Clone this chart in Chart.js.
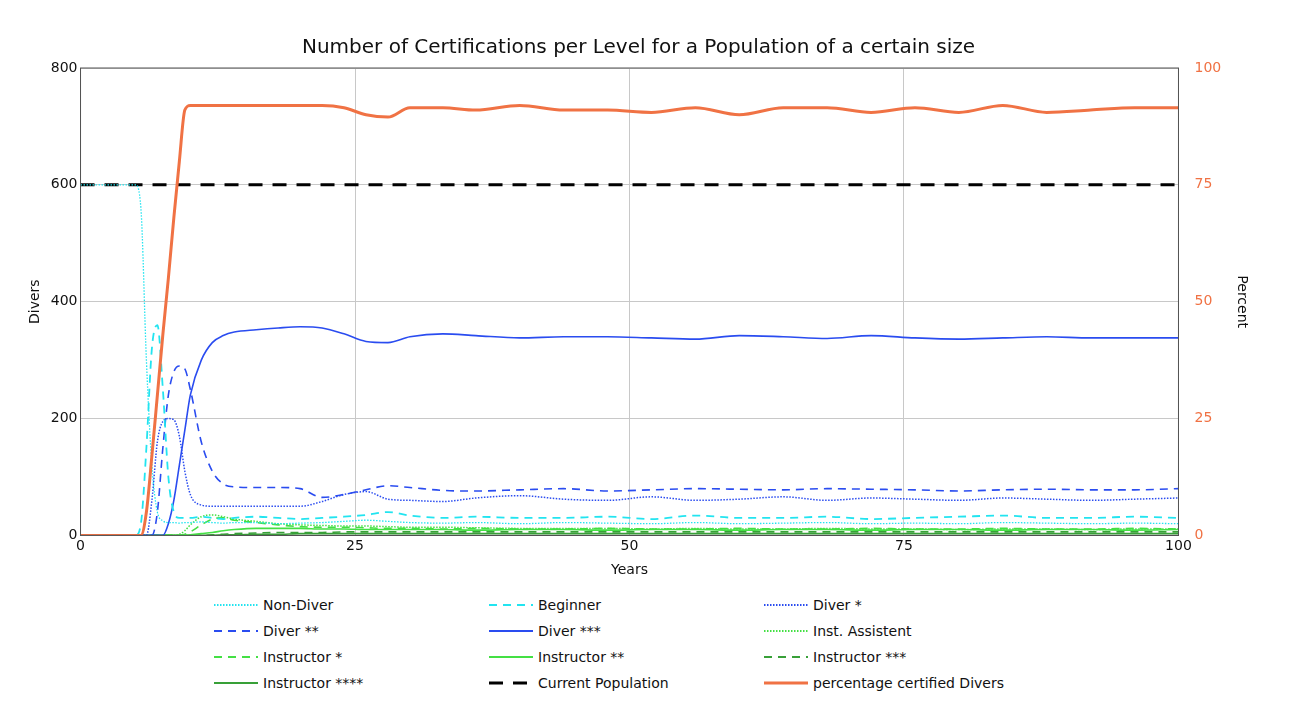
<!DOCTYPE html>
<html>
<head>
<meta charset="utf-8">
<script src="https://cdn.jsdelivr.net/npm/chart.js@4"></script>
<style>
  body { margin: 0; background: #fff; font-family: "DejaVu Sans", sans-serif; }
  #wrap { position: relative; width: 1308px; height: 590px; }
  #legend { position: relative; width: 1308px; height: 124px; }
  .item { position: absolute; font-size: 14px; color: #111; display: flex; align-items: center; height: 20px; }
  .item svg { margin-right: 5px; }
</style>
</head>
<body>
<div id="wrap"><canvas id="chart" width="1308" height="590"></canvas></div>
<div id="legend"></div>
<script>
// Time points (years)
const years = [0,5,5.5,6,6.5,7,7.5,8,8.5,9,9.5,10,11,12,13,14,16,18,20,22,24,26,28,30,33,36,40,44,48,52,56,60,64,68,72,76,80,84,88,92,96,100];

// Series values
const nonDiver = [600,600,560,300,120,40,25,22,22,21,22,22,23,22,21,22,22,20,21,22,24,26,24,22,21,22,20,22,21,20,22,20,21,22,20,21,20,22,21,20,21,20];
const beginner = [0,0,20,150,320,360,250,100,40,30,30,30,32,30,28,30,32,30,28,30,32,35,40,34,30,32,30,30,32,28,34,30,30,32,28,30,32,34,30,30,32,30];
const diver1 = [0,0,0,0,60,160,195,200,198,170,110,70,52,50,50,50,50,50,50,58,70,75,62,60,58,64,68,62,60,66,60,62,66,60,64,62,60,64,62,60,62,64];
const diver2 = [0,0,0,0,0,40,150,240,280,290,285,250,160,110,88,83,82,82,80,65,70,78,85,82,77,76,78,80,76,78,80,79,78,80,79,78,76,78,79,78,78,80];
const diver3 = [0,0,0,0,0,0,0,20,60,120,180,240,300,330,342,348,352,355,357,355,345,332,330,340,345,342,338,340,340,338,336,342,340,337,342,338,336,338,340,338,338,338];
const instAssistent = [0,0,0,0,0,0,0,0,0,2,8,18,32,35,32,28,24,20,18,17,16,16,15,14,14,13,12,12,12,11,12,11,11,12,11,11,10,11,11,10,11,11];
const instructor1 = [0,0,0,0,0,0,0,0,0,0,2,6,18,28,30,26,22,18,15,14,14,13,12,12,11,12,11,11,12,11,11,12,11,11,12,11,11,12,11,11,12,11];
const instructor2 = [0,0,0,0,0,0,0,0,0,0,0,1,3,5,8,10,12,12,12,11,11,10,10,10,10,9,10,10,9,10,10,9,10,10,9,10,10,9,10,10,9,10];
const instructor3 = [0,0,0,0,0,0,0,0,0,0,0,0,0,1,2,3,4,5,5,5,6,6,6,6,6,6,6,6,6,6,6,6,6,6,6,6,6,6,6,6,6,6];
const instructor4 = [0,0,0,0,0,0,0,0,0,0,0,0,0,0,1,1,2,2,3,3,3,3,3,3,3,3,3,3,3,3,3,3,3,3,3,3,3,3,3,3,3,3];
const population = [600,600,600,600,600,600,600,600,600,600,600,600,600,600,600,600,600,600,600,600,600,600,600,600,600,600,600,600,600,600,600,600,600,600,600,600,600,600,600,600,600,600];
const percentCertified = [0,0,0,5,17,30,43,55,68,80,91,92,92,92,92,92,92,92,92,92,91.5,90,89.5,91.5,91.5,91,92,91,91,90.5,91.5,90,91.5,91.5,90.5,91.5,90.5,92,90.5,91,91.5,91.5];

const leftTicks = [0, 200, 400, 600, 800];
const rightTicks = [0, 25, 50, 75, 100];

const CYAN = "#22e4f0", BLUE = "#2a4cf0", GREEN = "#44e044", DGREEN = "#38a038", ORANGE = "#f07244";

const series = [
  { label: "Non-Diver", data: nonDiver, color: CYAN, dash: [1.5, 1.5], width: 1.3 },
  { label: "Beginner", data: beginner, color: CYAN, dash: [8, 6], width: 1.8 },
  { label: "Diver *", data: diver1, color: BLUE, dash: [1.5, 1.5], width: 1.5 },
  { label: "Diver **", data: diver2, color: BLUE, dash: [8, 6], width: 1.6 },
  { label: "Diver ***", data: diver3, color: BLUE, dash: [], width: 1.6 },
  { label: "Inst. Assistent", data: instAssistent, color: GREEN, dash: [1.5, 1.5], width: 1.5 },
  { label: "Instructor *", data: instructor1, color: GREEN, dash: [8, 6], width: 1.6 },
  { label: "Instructor **", data: instructor2, color: GREEN, dash: [], width: 1.6 },
  { label: "Instructor ***", data: instructor3, color: DGREEN, dash: [8, 6], width: 1.6 },
  { label: "Instructor ****", data: instructor4, color: DGREEN, dash: [], width: 1.6 },
  { label: "Current Population", data: population, color: "#000", dash: [14, 10], width: 3 },
  { label: "percentage certified Divers", data: percentCertified, color: ORANGE, dash: [], width: 3, axis: "y2" }
];

// Box round the plot area
const frame = {
  id: "frame",
  afterDraw(chart) {
    const a = chart.chartArea, ctx = chart.ctx;
    ctx.save();
    ctx.strokeStyle = "#555";
    ctx.lineWidth = 1;
    ctx.strokeRect(a.left, a.top, a.right - a.left, a.bottom - a.top);
    ctx.restore();
  }
};

new Chart(document.getElementById("chart"), {
  type: "line",
  data: {
    datasets: series.map(s => ({
      label: s.label,
      data: s.data.map((v, i) => ({ x: years[i], y: v })),
      borderColor: s.color,
      borderDash: s.dash,
      borderWidth: s.width,
      pointRadius: 0,
      cubicInterpolationMode: "monotone",
      yAxisID: s.axis || "y",
      order: s.axis ? 0 : 1
    }))
  },
  options: {
    responsive: false,
    animation: false,
    layout: { padding: { left: 23, right: 54, top: 10, bottom: 7 } },
    plugins: {
      legend: { display: false },
      title: {
        display: true,
        text: "Number of Certifications per Level for a Population of a certain size",
        color: "#111",
        font: { family: "DejaVu Sans", size: 20, weight: "normal" },
        padding: { top: 26, bottom: 8 }
      }
    },
    scales: {
      x: {
        type: "linear", min: 0, max: 100,
        ticks: { stepSize: 25, color: "#111", font: { family: "DejaVu Sans", size: 14 } },
        grid: { color: "#c8c8c8", drawTicks: false },
        border: { color: "#333" },
        title: { display: true, text: "Years", color: "#111", font: { family: "DejaVu Sans", size: 14 } }
      },
      y: {
        min: 0, max: 800,
        afterBuildTicks: ax => { ax.ticks = leftTicks.map(v => ({ value: v })); },
        ticks: { color: "#111", font: { family: "DejaVu Sans", size: 14 } },
        grid: { color: "#c8c8c8", drawTicks: false },
        border: { color: "#333" },
        title: { display: true, text: "Divers", color: "#111", font: { family: "DejaVu Sans", size: 14 } }
      },
      y2: {
        position: "right", min: 0, max: 100,
        afterBuildTicks: ax => { ax.ticks = rightTicks.map(v => ({ value: v })); },
        ticks: { color: ORANGE, font: { family: "DejaVu Sans", size: 14 }, padding: 8 },
        grid: { display: false },
        border: { color: "#333" },
        title: { display: true, text: "Percent", color: "#111", font: { family: "DejaVu Sans", size: 14 } }
      }
    }
  },
  plugins: [frame]
});

// Legend below the chart, three columns
const legend = document.getElementById("legend");
series.forEach((s, i) => {
  const col = i % 3, row = Math.floor(i / 3);
  const el = document.createElement("div");
  el.className = "item";
  el.style.left = (214 + col * 275) + "px";
  el.style.top = (5 + row * 26) + "px";
  el.innerHTML = '<svg width="44" height="10"><line x1="0" y1="5" x2="44" y2="5" stroke="' + s.color +
    '" stroke-width="' + Math.max(s.width, 2) + '" stroke-dasharray="' + s.dash.join(",") + '"/></svg>' + s.label;
  legend.appendChild(el);
});
</script>
</body>
</html>
